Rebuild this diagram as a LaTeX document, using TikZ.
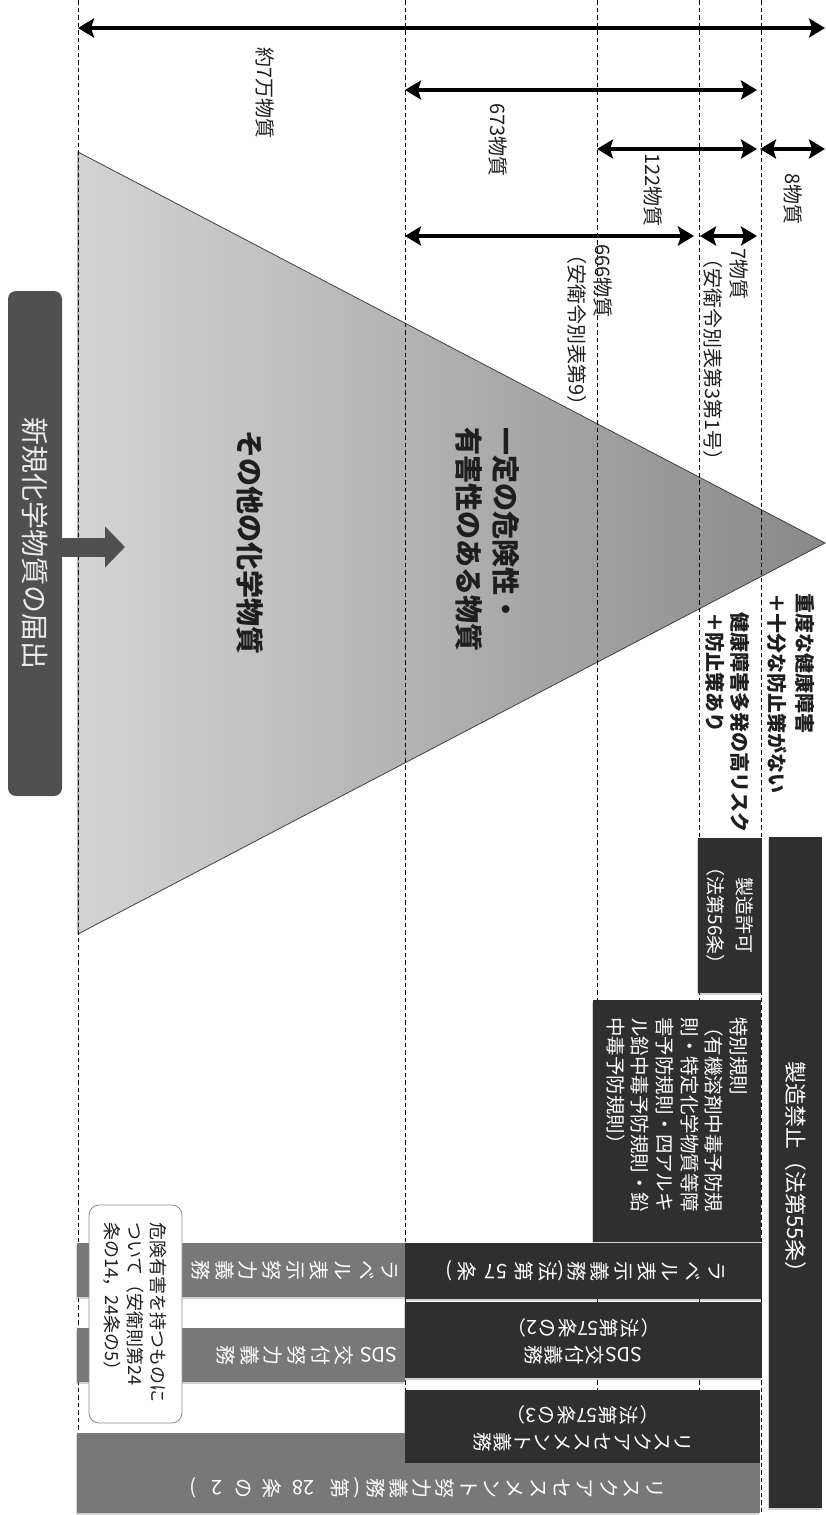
\documentclass[tikz,border=0pt]{standalone}
\usepackage{fontspec}
\setmainfont{Noto Sans CJK JP}
\usepackage{graphicx}
\usetikzlibrary{arrows.meta,shadows}
\definecolor{darkbox}{HTML}{2F2F2F}
\definecolor{graybox}{HTML}{787878}
\definecolor{newboxc}{HTML}{505050}
\definecolor{triL}{HTML}{D4D4D4}
\definecolor{triR}{HTML}{898989}
\definecolor{lbltext}{HTML}{1E1E1E}
\newcommand\sw[1]{\rotatebox[origin=c]{-90}{#1}}
\newcommand\fixskip{\lineskiplimit=-100pt\lineskip=0pt}
\begin{document}
\begin{tikzpicture}[x=1pt,y=-1pt,
  dashv/.style={line width=0.9pt, dash pattern=on 4.5pt off 3pt},
  dimarrow/.style={line width=3.2pt, arrows={Stealth[length=16pt,width=19pt,inset=3pt]-Stealth[length=16pt,width=19pt,inset=3pt]}},
  rtext/.style={rotate=-90, inner sep=0pt, text=lbltext},
  lbl/.style={rtext, font={\fontsize{20}{26}\selectfont}},
  blbl/.style={rtext, anchor=west, align=left},
  boxbase/.style={draw=none, inner sep=0pt, outer sep=0pt, drop shadow={shadow xshift=-1.5pt, shadow yshift=-1.5pt, opacity=0.35}},
  dbox/.style={boxbase, fill=darkbox},
  gbox/.style={boxbase, fill=graybox},
  wtext/.style={rtext, text=white},
  vcol/.style 2 args={rotate=-90, inner sep=0pt, align=center, text=white, font={\fontsize{#1}{#2}\selectfont\fixskip}},
]
\useasboundingbox (0,0) rectangle (826,1515);

% pyramid
\coordinate (tA) at (78,152);
\coordinate (tB) at (825,543);
\coordinate (tC) at (78,934);
\path[draw=black!75, line width=0.8pt, left color=triL, right color=triR] (tA) -- (tB) -- (tC) -- cycle;

% dashed guide lines
\foreach \n/\x in {1/78,2/405,3/597,4/699,5/761}{
  \coordinate (d\n t) at (\x,0);
  \coordinate (d\n b) at (\x,1515);
  \draw[dashv] (d\n t) -- (d\n b);
}

% dimension arrows
\coordinate (a1l) at (78,28);   \coordinate (a1r) at (825,28);
\coordinate (a2l) at (405,90);  \coordinate (a2r) at (757,90);
\coordinate (a3l) at (597,149); \coordinate (a3r) at (757,149);
\coordinate (a4l) at (760,149); \coordinate (a4r) at (825,149);
\coordinate (a5l) at (405,236); \coordinate (a5r) at (694,236);
\coordinate (a6l) at (700,236); \coordinate (a6r) at (757,236);
\draw[dimarrow] (a1l) -- (a1r);
\draw[dimarrow] (a2l) -- (a2r);
\draw[dimarrow] (a3l) -- (a3r);
\draw[dimarrow] (a4l) -- (a4r);
\draw[dimarrow] (a5l) -- (a5r);
\draw[dimarrow] (a6l) -- (a6r);

% arrow labels
\node[lbl] (l7man) at (265,93) {約7万物質};
\node[lbl] (l673) at (498,140) {673物質};
\node[lbl] (l122) at (653,190) {122物質};
\node[lbl] (l8) at (793,199) {8物質};
\node[lbl, anchor=west, align=left] (l666) at (590,244) {666物質\\（安衛令別表第9）};
\node[lbl, anchor=west, align=left] (l7) at (726,248) {7物質\\（安衛令別表第3第1号）};

% pyramid labels
\node[blbl, font={\bfseries\fontsize{28}{37}\selectfont}] (ittei) at (488,427) {一定の危険性・\\有害性のある物質};
\node[blbl, font={\bfseries\fontsize{28}{37}\selectfont}] (sonota) at (250,430) {その他の化学物質};
\node[blbl, font={\bfseries\fontsize{20}{28}\selectfont}] (judo) at (791,593) {重度な健康障害\\＋十分な防止策がない};
\node[blbl, font={\bfseries\fontsize{20}{25}\selectfont}] (kenko) at (727.5,612) {健康障害多発の高リスク\\＋防止策あり};

% new chemical notification
\node[fill=newboxc, rounded corners=8pt, minimum width=54pt, minimum height=505pt, inner sep=0pt] (newb) at (35,543.5) {};
\node[rtext, text=white!92!black, font={\fontsize{28}{32}\selectfont}] (newbT) at (newb.center) {新規化学物質の届出};
\coordinate (arrE) at (125,547);
\draw[newboxc, line width=19pt, -{Triangle[length=20pt,width=40pt]}] (newb.east |- arrE) -- (arrE);

% gray boxes
\node[gbox, minimum width=328pt, minimum height=54pt] (glabel) at (241,1270) {};
\node[gbox, minimum width=328pt, minimum height=54pt] (gsds) at (241,1355) {};
\node[gbox, minimum width=683pt, minimum height=80pt] (grisk) at (418.5,1473) {};
\node[vcol={20}{23.7}, anchor=north] (glabelT) at (398,1270) {ラ\\ベ\\ル\\表\\示\\努\\力\\義\\務};
\node[vcol={20}{23.7}, anchor=north] (gsdsT) at (398,1355) {\sw{SDS}\\[11pt]交\\付\\努\\力\\義\\務};
\node[vcol={20}{23.3}, anchor=north] (griskT) at (663,1488) {リ\\ス\\ク\\ア\\セ\\ス\\メ\\ン\\ト\\努\\力\\義\\務\\[-6.5pt]\sw{(}\\[-4.3pt]第\\[12.7pt]\sw{28}\\[8.7pt]条\\[4.7pt]の\\[3.7pt]\sw{2}\\[-1.3pt]\sw{)}};

% dark boxes
\node[dbox, minimum width=53pt, minimum height=671pt] (kinshi) at (795.5,1172.5) {};
\node[wtext, font={\fontsize{22}{26}\selectfont}] (kinshiT) at (kinshi.center) {製造禁止（法第55条）};
\node[dbox, minimum width=64pt, minimum height=155pt] (kyoka) at (730,915.5) {};
\node[wtext, align=center, font={\fontsize{19}{29}\selectfont}] (kyokaT) at (kyoka.center) {製造許可\\（法第56条）};
\node[dbox, minimum width=168pt, minimum height=242pt] (toku) at (677,1121) {};
\node[wtext, align=left, text width=208pt, font={\fontsize{19.5}{24.6}\selectfont}] (tokuT) at (toku.center) {特別規則\\（有機溶剤中毒予防規\\則・特定化学物質等障\\害予防規則・四アルキ\\ル鉛中毒予防規則・鉛\\中毒予防規則）};
\node[dbox, minimum width=357pt, minimum height=56pt] (label) at (583.5,1271) {};
\node[vcol={20}{23.3}] (labelT) at (label.center) {ラ\\ベ\\ル\\表\\示\\義\\務\\[-8.7pt]\sw{(}\\[-8.7pt]法\\第\\[4.7pt]\sw{57}\\[5.7pt]条\\[-6.3pt]\sw{)}};
\node[dbox, minimum width=357pt, minimum height=76pt] (sds) at (583.5,1340) {};
\node[vcol={19.5}{20.5}] (sdsA) at (583.5,1355) {\sw{SDS}\\[8.75pt]交\\付\\義\\務};
\node[vcol={19.5}{20.5}] (sdsB) at (583.5,1328) {\sw{（}\\法\\第\\\sw{57}\\条\\の\\[-5pt]\sw{2}\\[-5pt]\sw{）}};
\node[dbox, minimum width=355pt, minimum height=73pt] (risk) at (582.5,1426.5) {};
\node[vcol={19.5}{20}] (riskA) at (582.5,1442) {リ\\ス\\ク\\ア\\セ\\ス\\メ\\ン\\ト\\義\\務};
\node[vcol={19.5}{20.5}] (riskB) at (582.5,1415) {\sw{（}\\法\\第\\\sw{57}\\条\\の\\[-5pt]\sw{3}\\[-5pt]\sw{）}};

% callout
\node[rotate=-90, draw=black!45, fill=white, rounded corners=10pt, line width=0.8pt, minimum width=218pt, minimum height=93pt, text width=184pt, align=left, inner sep=0pt, text=lbltext, font={\fontsize{18}{23}\selectfont}] (note) at (135.5,1314) {危険有害を持つものに\\ついて（安衛則第24\\条の14，24条の5）};
\end{tikzpicture}
\end{document}
